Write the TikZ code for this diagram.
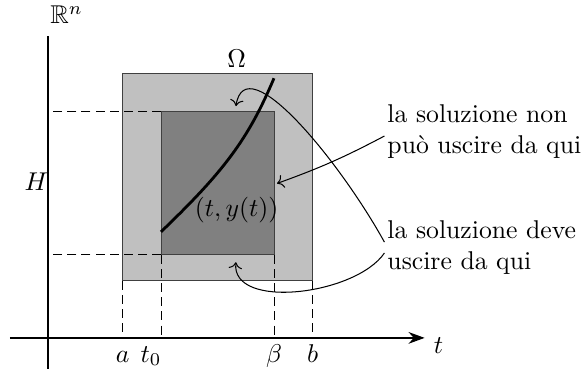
\documentclass[tikz,border=0pt]{standalone}
\usepackage{amsmath,amssymb}
\usepackage{tikz}
\usetikzlibrary{arrows.meta,positioning,calc}
\definecolor{omgrey}{HTML}{C0C0C0}
\definecolor{ingrey}{HTML}{808080}
\definecolor{edgrey}{HTML}{404040}
\tikzset{
  outerbox/.style = {rectangle, draw=edgrey, fill=omgrey, inner sep=0pt,
                     outer sep=0pt},
  innerbox/.style = {rectangle, draw=edgrey, fill=ingrey, inner sep=0pt,
                     outer sep=0pt},
  axis/.style     = {draw=black, line width=0.5pt},
  dsh/.style      = {draw=black, line width=0.4pt, dash pattern=on 3.5pt off 2pt},
  seg/.style      = {draw=black, line width=1pt},
  ann/.style      = {->, draw=black, line width=0.4pt},
  lbl/.style      = {inner sep=1pt},
  note/.style     = {inner sep=1pt, anchor=west, align=left},
}
\begin{document}
\begin{tikzpicture}[x=1mm,y=1mm]
  \useasboundingbox (-6.56,-4.24) rectangle (73.7,46.2);
  \coordinate (O) at (0,0);
  \coordinate (xs) at (-5.2,0);
  \coordinate (xe) at (51.5,0);
  \coordinate (ys) at (0,-4.3);
  \coordinate (ye) at (0,41.3);
  % domain and the box around the solution
  \node[outerbox, minimum width=25.95mm, minimum height=28.3mm] (omega) at (23.2,21.95) {};
  \node[innerbox, minimum width=15.45mm, minimum height=19.55mm] (box) at (23.2,21.12) {};
  % axes
  \draw[axis] (ys) -- (ye);
  \draw[axis, -{Stealth[length=2.2mm,width=1.6mm]}] (xs) -- (xe);
  \node[lbl, anchor=west] (rn) at (-0.1,44.2) {$\mathbb{R}^n$};
  \node[lbl] (tlab) at (53.4,-1.0) {$t$};
  % projections
  \draw[dsh] (box.north west) -- (box.north west -| O);
  \draw[dsh] (box.south west) -- (box.south west -| O);
  \draw[dsh] (omega.south west) -- (omega.south west |- O);
  \draw[dsh] (box.south west) -- (box.south west |- O);
  \draw[dsh] (box.south east) -- (box.south east |- O);
  \draw[dsh] (omega.south east) -- (omega.south east |- O);
  \draw[seg] (box.north west -| O) -- (box.south west -| O);
  \draw[seg] (box.south west |- O) -- (box.south east |- O);
  \node[lbl] (hlab) at (-1.6,21.3) {$H$};
  \node[lbl, anchor=base] (alab) at ($(omega.south west |- O)+(0,-3.3)$) {$a$};
  \node[lbl, anchor=base] (t0lab) at ($(box.south west |- O)+(-1.4,-3.3)$) {$t_0$};
  \node[lbl, anchor=base] (blab) at ($(box.south east |- O)+(0,-3.3)$) {$\beta$};
  \node[lbl, anchor=base] (bblab) at ($(omega.south east |- O)+(0,-3.3)$) {$b$};
  \node[lbl] (om) at (25.8,38.2) {$\Omega$};
  % the solution
  \coordinate (c0) at (15.45,14.5);
  \coordinate (c1) at (30.9,35.5);
  \draw[seg, line width=1.1pt] (c0) .. controls (24.1,22.8) and (27.4,27.2) .. (c1);
  \node[lbl] (sol) at (25.8,17.5) {$(t,y(t))$};
  % notes
  \node[note] (nonesce) at (46.0,28.2) {la soluzione non\\pu\`o uscire da qui};
  \node[note] (esce) at (46.0,12.4) {la soluzione deve\\uscire da qui};
  \draw[ann] ([yshift=-0.6mm]nonesce.west) to[bend left=4] ([xshift=0.4mm]box.east);
  \draw[ann] ([yshift=0.7mm]esce.west) .. controls (40,24) and (27,40) .. ([xshift=2.5mm,yshift=0.8mm]box.north);
  \draw[ann] ([yshift=-0.8mm]esce.west) .. controls (42,5.8) and (25,3.8) .. ([xshift=2.5mm,yshift=-1mm]box.south);
\end{tikzpicture}
\end{document}
